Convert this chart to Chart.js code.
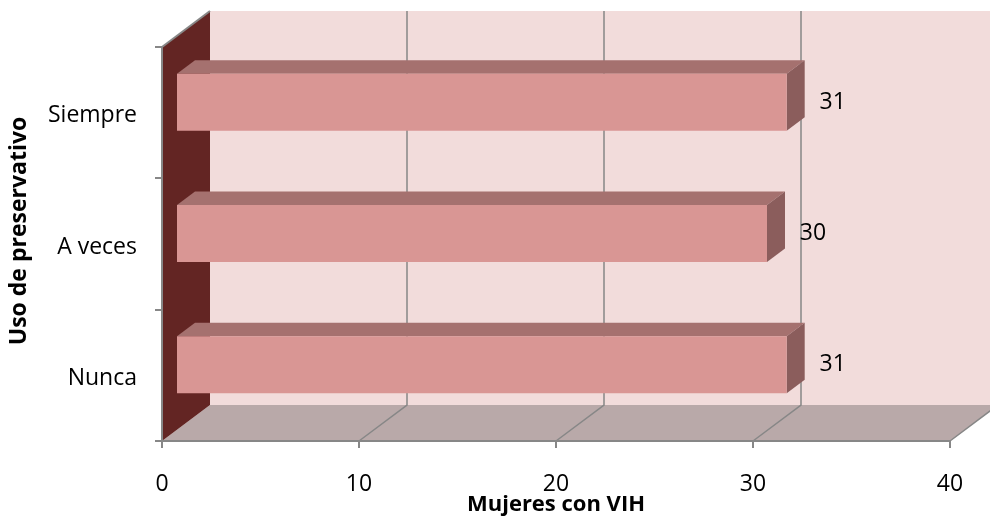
<!DOCTYPE html>
<html>
<head>
<meta charset="utf-8">
<script src="https://cdn.jsdelivr.net/npm/chart.js@4/dist/chart.umd.min.js"></script>
<style>
  html, body { margin: 0; padding: 0; background: #ffffff; }
  #wrap { width: 990px; height: 517px; }
</style>
</head>
<body>
<div id="wrap"><canvas id="chart" width="990" height="517"></canvas></div>
<script>
// Chart data
const categories = ['Siempre', 'A veces', 'Nunca'];
const mujeresConVih = [31, 30, 31];
const xTickValues = [0, 10, 20, 30, 40];
const xTitle = 'Mujeres con VIH';
const yTitle = 'Uso de preservativo';

// 3D look: offsets of the back plane and of the bar faces
const DEPTH = { x: 48, y: -36 };
const BAR_FRONT = { x: 14, y: -10.5 };
const BAR_BACK = { x: 32, y: -24 };

const COLORS = {
  backWall: '#f2dcdb',
  sideWall: '#632523',
  floor: '#b9a9a9',
  grid: '#878787',
  barFront: '#d99694',
  barTop: '#a5716f',
  barSide: '#8b5d5c'
};

const FONT = 'Open Sans';

function poly(ctx, pts, fill) {
  ctx.beginPath();
  ctx.moveTo(pts[0][0], pts[0][1]);
  for (let i = 1; i < pts.length; i++) ctx.lineTo(pts[i][0], pts[i][1]);
  ctx.closePath();
  ctx.fillStyle = fill;
  ctx.fill();
}

// Walls, floor and the receding grid lines
const walls3d = {
  id: 'walls3d',
  beforeDraw(chart) {
    const { ctx, chartArea: a, scales: { x } } = chart;
    const dx = DEPTH.x, dy = DEPTH.y;
    ctx.save();
    ctx.fillStyle = COLORS.backWall;
    ctx.fillRect(a.left + dx, a.top + dy, a.right - a.left, a.bottom - a.top);
    poly(ctx, [[a.left, a.bottom], [a.right, a.bottom], [a.right + dx, a.bottom + dy], [a.left + dx, a.bottom + dy]], COLORS.floor);
    poly(ctx, [[a.left, a.top], [a.left + dx, a.top + dy], [a.left + dx, a.bottom + dy], [a.left, a.bottom]], COLORS.sideWall);

    ctx.strokeStyle = COLORS.grid;
    ctx.lineWidth = 1.5;
    x.ticks.forEach(t => {
      if (t.value === x.min) return;
      const px = x.getPixelForValue(t.value);
      ctx.beginPath();
      ctx.moveTo(px, a.bottom);
      ctx.lineTo(px + dx, a.bottom + dy);
      ctx.lineTo(px + dx, a.top + dy);
      ctx.stroke();
    });
    ctx.lineWidth = 2;
    ctx.beginPath();
    ctx.moveTo(a.left, a.top);
    ctx.lineTo(a.left + dx, a.top + dy);
    ctx.stroke();
    ctx.restore();
  }
};

// Top and side faces of each bar; the front face is drawn by Chart.js, shifted into depth
const bars3d = {
  id: 'bars3d',
  beforeDatasetsDraw(chart) {
    const { ctx } = chart;
    ctx.save();
    chart.getDatasetMeta(0).data.forEach(el => {
      const { x, y, base, height } = el.getProps(['x', 'y', 'base', 'height'], true);
      const top = y - height / 2, bottom = y + height / 2;
      const f = BAR_FRONT, b = BAR_BACK;
      poly(ctx, [[base + f.x, top + f.y], [x + f.x, top + f.y], [x + b.x, top + b.y], [base + b.x, top + b.y]], COLORS.barTop);
      poly(ctx, [[x + f.x, top + f.y], [x + b.x, top + b.y], [x + b.x, bottom + b.y], [x + f.x, bottom + f.y]], COLORS.barSide);
    });
    ctx.restore();
    ctx.save();
    ctx.translate(BAR_FRONT.x, BAR_FRONT.y);
  },
  afterDatasetsDraw(chart) {
    const { ctx } = chart;
    ctx.restore();
    // value labels
    ctx.save();
    ctx.fillStyle = '#000000';
    ctx.font = `23px "${FONT}"`;
    ctx.textAlign = 'center';
    ctx.textBaseline = 'middle';
    const ds = chart.data.datasets[0];
    chart.getDatasetMeta(0).data.forEach((el, i) => {
      const { x, y } = el.getProps(['x', 'y'], true);
      ctx.fillText(String(ds.data[i]), x + 60, y + BAR_FRONT.y);
    });
    ctx.restore();
  },
  afterDraw(chart) {
    const { ctx, chartArea: a } = chart;
    ctx.save();
    ctx.fillStyle = '#000000';
    ctx.textAlign = 'center';
    ctx.textBaseline = 'middle';
    // axis titles
    ctx.font = `bold 22px "${FONT}"`;
    ctx.fillText(xTitle, (a.left + a.right) / 2, 505);
    ctx.font = `bold 23px "${FONT}"`;
    ctx.translate(19, (a.top + a.bottom) / 2 - 13);
    ctx.rotate(-Math.PI / 2);
    ctx.fillText(yTitle, 0, 0);
    ctx.restore();
  }
};

new Chart(document.getElementById('chart'), {
  type: 'bar',
  data: {
    labels: categories,
    datasets: [{
      data: mujeresConVih,
      backgroundColor: COLORS.barFront,
      borderWidth: 0,
      categoryPercentage: 1,
      barPercentage: 0.434
    }]
  },
  options: {
    indexAxis: 'y',
    responsive: false,
    animation: false,
    devicePixelRatio: 1,
    layout: { padding: { left: 0, right: 40, top: 47, bottom: 0 } },
    plugins: { legend: { display: false }, tooltip: { enabled: false } },
    scales: {
      x: {
        min: 0,
        max: 40,
        afterBuildTicks(s) { s.ticks = xTickValues.map(v => ({ value: v })); },
        afterFit(s) { s.height = 76; },
        ticks: { color: '#000000', font: { family: FONT, size: 23 }, padding: 23, maxRotation: 0, autoSkip: false },
        grid: { drawOnChartArea: false, drawTicks: true, tickLength: 7, color: COLORS.grid, lineWidth: 2 },
        border: { display: true, color: COLORS.grid, width: 2 },
        title: { display: false }
      },
      y: {
        afterFit(s) { s.width = 162; },
        ticks: { color: '#000000', font: { family: FONT, size: 23 }, padding: 18, labelOffset: 3 },
        grid: { drawOnChartArea: false, drawTicks: true, tickLength: 7, color: COLORS.grid, lineWidth: 2, offset: true },
        border: { display: true, color: COLORS.grid, width: 2 }
      }
    }
  },
  plugins: [walls3d, bars3d]
});
</script>
</body>
</html>
